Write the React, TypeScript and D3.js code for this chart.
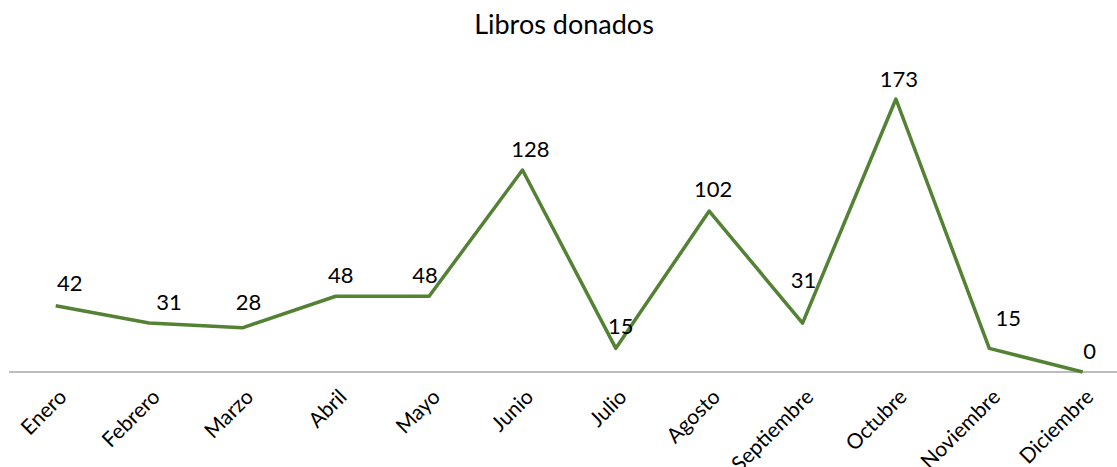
import React from "react";
import * as d3 from "d3";

const months = ["Enero","Febrero","Marzo","Abril","Mayo","Junio","Julio","Agosto","Septiembre","Octubre","Noviembre","Diciembre"];
const books = [42,31,28,48,48,128,15,102,31,173,15,0];
const title = "Libros donados";

// data-label nudges (layout only): [dx, dy] of label centre/baseline from its point
const labelNudge: [number, number][] = [
  [14, -15], [20, -13], [6, -18], [5, -13], [-4, -13], [8, -13],
  [5, -14], [4, -14], [1, -35], [3, -12], [19, -22], [7, -13],
];

const W = 1117, H = 467;
const FONT = "Lato, 'Open Sans', sans-serif";

export default function App() {
  const x = d3.scaleBand<string>().domain(months).range([9, 9 + 93.36 * 12]);
  const y = d3.scaleLinear().domain([0, 173]).range([372, 99]);
  const cx = (m: string) => (x(m) as number) + x.bandwidth() / 2;
  const line = d3.line<number>().x((_, i) => cx(months[i])).y(d => y(d));
  return (
    <svg width={W} height={H} style={{ position: "absolute", left: 0, top: 0, background: "#fff" }}>
      <text x={564} y={34} textAnchor="middle" fontFamily={FONT} fontSize={27} fill="#000">{title}</text>
      <line x1={9} x2={W} y1={y(0)} y2={y(0)} stroke="#a6a6a6" strokeWidth={1.5} />
      <path d={line(books) || ""} fill="none" stroke="#548235" strokeWidth={3.5} strokeLinejoin="round" />
      {books.map((v, i) => (
        <text key={"l" + i} x={cx(months[i]) + labelNudge[i][0]} y={y(v) + labelNudge[i][1]} textAnchor="middle" fontFamily={FONT} fontSize={22} fill="#000">{v}</text>
      ))}
      {months.map(m => (
        <text key={m} transform={`translate(${cx(m) + 7},${y(0) + 21}) rotate(-45)`} textAnchor="end" fontFamily={FONT} fontSize={21} fill="#000" dy="0.35em">{m}</text>
      ))}
    </svg>
  );
}
